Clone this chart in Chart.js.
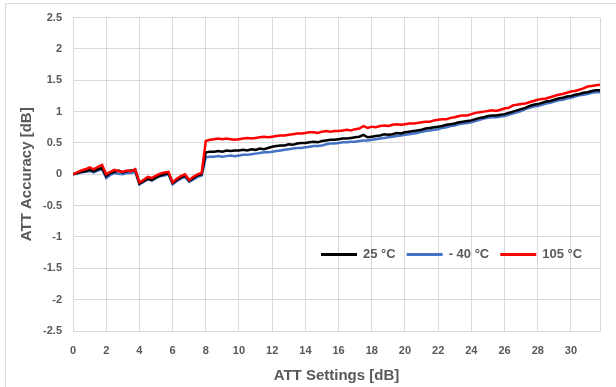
<!DOCTYPE html>
<html>
<head>
<meta charset="utf-8">
<script src="https://cdn.jsdelivr.net/npm/chart.js@4.4.1/dist/chart.umd.min.js"></script>
<style>
  html, body { margin: 0; padding: 0; background: #fff; }
  #wrap { position: relative; width: 616px; height: 387px; overflow: hidden; }
  #frame { position: absolute; left: 5px; top: 3px; width: 660px; height: 440px; border: 1px solid #d9d9d9; pointer-events: none; }
</style>
</head>
<body>
<div id="wrap">
  <canvas id="chart" width="616" height="387"></canvas>
  <div id="frame"></div>
</div>
<script>
// ATT settings run 0 .. 31.75 dB in 0.25 dB steps (128 settings)
const attSettings = [];
for (let i = 0; i < 128; i++) attSettings.push(i * 0.25);

const xTicks = [0, 2, 4, 6, 8, 10, 12, 14, 16, 18, 20, 22, 24, 26, 28, 30];
const yTicks = [-2.5, -2, -1.5, -1, -0.5, 0, 0.5, 1, 1.5, 2, 2.5];

const seriesLabels = ['25 °C', '- 40 °C', '105 °C'];

// accuracy [dB], 8 values per 2 dB
const acc25 = [
  0.00, 0.02, 0.04, 0.05, 0.07, 0.05, 0.08, 0.10,
  -0.03, 0.02, 0.04, 0.06, 0.03, 0.05, 0.06, 0.07,
  -0.15, -0.11, -0.07, -0.09, -0.05, -0.02, 0.00, 0.02,
  -0.14, -0.09, -0.05, -0.02, -0.10, -0.06, -0.02, 0.00,
  0.35, 0.36, 0.36, 0.37, 0.36, 0.38, 0.37, 0.38,
  0.38, 0.39, 0.38, 0.40, 0.39, 0.41, 0.40, 0.42,
  0.44, 0.45, 0.46, 0.46, 0.48, 0.47, 0.49, 0.50,
  0.50, 0.51, 0.52, 0.51, 0.53, 0.54, 0.55, 0.55,
  0.56, 0.57, 0.57, 0.58, 0.59, 0.60, 0.63, 0.59,
  0.60, 0.61, 0.62, 0.64, 0.63, 0.64, 0.66, 0.65,
  0.67, 0.68, 0.69, 0.70, 0.71, 0.73, 0.74, 0.75,
  0.76, 0.77, 0.79, 0.80, 0.81, 0.83, 0.84, 0.85,
  0.86, 0.88, 0.90, 0.91, 0.93, 0.94, 0.94, 0.95,
  0.96, 0.98, 1.00, 1.02, 1.04, 1.06, 1.09, 1.11,
  1.12, 1.14, 1.16, 1.17, 1.19, 1.21, 1.22, 1.24,
  1.25, 1.27, 1.28, 1.30, 1.31, 1.33, 1.34, 1.34
];

const accM40 = [
  0.00, 0.01, 0.03, 0.04, 0.05, 0.03, 0.06, 0.08,
  -0.06, -0.01, 0.02, 0.01, 0.00, 0.02, 0.02, 0.04,
  -0.16, -0.12, -0.08, -0.10, -0.06, -0.03, -0.02, 0.00,
  -0.16, -0.11, -0.07, -0.04, -0.12, -0.08, -0.04, -0.02,
  0.27, 0.28, 0.28, 0.29, 0.28, 0.29, 0.30, 0.29,
  0.30, 0.31, 0.31, 0.32, 0.33, 0.34, 0.35, 0.35,
  0.36, 0.37, 0.38, 0.39, 0.40, 0.41, 0.42, 0.42,
  0.43, 0.44, 0.45, 0.45, 0.46, 0.48, 0.49, 0.49,
  0.50, 0.51, 0.51, 0.52, 0.52, 0.53, 0.54, 0.54,
  0.55, 0.56, 0.57, 0.58, 0.59, 0.60, 0.61, 0.62,
  0.63, 0.64, 0.65, 0.66, 0.68, 0.69, 0.70, 0.71,
  0.72, 0.74, 0.75, 0.77, 0.78, 0.80, 0.81, 0.82,
  0.83, 0.85, 0.87, 0.89, 0.90, 0.91, 0.91, 0.92,
  0.93, 0.95, 0.97, 0.99, 1.01, 1.04, 1.06, 1.08,
  1.09, 1.11, 1.13, 1.14, 1.16, 1.18, 1.19, 1.21,
  1.22, 1.24, 1.26, 1.27, 1.28, 1.30, 1.31, 1.31
];

const acc105 = [
  0.00, 0.03, 0.06, 0.08, 0.11, 0.08, 0.12, 0.15,
  0.00, 0.04, 0.07, 0.05, 0.04, 0.06, 0.05, 0.08,
  -0.13, -0.09, -0.04, -0.06, -0.02, 0.01, 0.03, 0.04,
  -0.13, -0.07, -0.03, 0.00, -0.09, -0.04, 0.00, 0.02,
  0.53, 0.55, 0.56, 0.57, 0.56, 0.57, 0.56, 0.55,
  0.56, 0.57, 0.58, 0.57, 0.58, 0.59, 0.60, 0.59,
  0.60, 0.61, 0.62, 0.62, 0.63, 0.64, 0.65, 0.65,
  0.66, 0.67, 0.67, 0.66, 0.68, 0.69, 0.68, 0.69,
  0.69, 0.70, 0.71, 0.70, 0.72, 0.73, 0.77, 0.74,
  0.76, 0.75, 0.77, 0.78, 0.77, 0.79, 0.80, 0.79,
  0.80, 0.81, 0.81, 0.82, 0.83, 0.84, 0.84, 0.86,
  0.87, 0.88, 0.88, 0.90, 0.91, 0.93, 0.94, 0.94,
  0.96, 0.98, 0.99, 1.00, 1.01, 1.02, 1.01, 1.03,
  1.05, 1.06, 1.10, 1.11, 1.12, 1.13, 1.15, 1.17,
  1.19, 1.20, 1.21, 1.23, 1.25, 1.27, 1.28, 1.30,
  1.32, 1.33, 1.35, 1.37, 1.40, 1.41, 1.42, 1.43
];

const FONT = "'Liberation Sans', Arial, sans-serif";
const GREY = '#595959';
const GRID = '#d9d9d9';

function toPoints(values) {
  return values.map((v, i) => ({ x: attSettings[i], y: v }));
}

// legend sits inside the plot, drawn from the datasets
const insideLegend = {
  id: 'insideLegend',
  afterDraw(chart) {
    const ctx = chart.ctx;
    const y = chart.scales.y.getPixelForValue(-1.28);
    let x = chart.chartArea.left + 248;
    ctx.save();
    ctx.font = 'bold 13px ' + FONT;
    ctx.textBaseline = 'middle';
    chart.data.datasets.forEach(ds => {
      ctx.strokeStyle = ds.borderColor;
      ctx.lineWidth = 3;
      ctx.beginPath();
      ctx.moveTo(x, y);
      ctx.lineTo(x + 36, y);
      ctx.stroke();
      x += 42;
      ctx.fillStyle = GREY;
      ctx.fillText(ds.label, x, y);
      x += ctx.measureText(ds.label).width + 11;
    });
    ctx.restore();
  }
};

new Chart(document.getElementById('chart'), {
  type: 'line',
  data: {
    datasets: [
      { label: seriesLabels[0], data: toPoints(acc25), borderColor: '#000000', order: 1 },
      { label: seriesLabels[1], data: toPoints(accM40), borderColor: '#4472c4', order: 2 },
      { label: seriesLabels[2], data: toPoints(acc105), borderColor: '#ff0000', order: 0 }
    ]
  },
  options: {
    responsive: false,
    animation: false,
    layout: { padding: { left: 14, right: 16, top: 14, bottom: 0 } },
    elements: {
      point: { radius: 0 },
      line: { borderWidth: 2.5, tension: 0 }
    },
    plugins: {
      legend: { display: false },
      tooltip: { enabled: false }
    },
    scales: {
      x: {
        type: 'linear',
        min: 0,
        max: 31.75,
        afterBuildTicks: s => {
          s.ticks = xTicks.map(v => ({ value: v })).concat([{ value: 31.75 }]);
        },
        afterFit: s => { s.height = 56; },
        ticks: {
          color: GREY,
          font: { family: FONT, size: 11, weight: 'bold' },
          padding: 13,
          maxRotation: 0,
          autoSkip: false,
          callback: v => (xTicks.includes(v) ? String(v) : '')
        },
        grid: { color: GRID, drawTicks: false },
        border: { color: GRID },
        title: {
          display: true,
          text: 'ATT Settings [dB]',
          color: GREY,
          font: { family: FONT, size: 15, weight: 'bold' },
          padding: { top: 4, bottom: 2 }
        }
      },
      y: {
        min: -2.5,
        max: 2.5,
        afterBuildTicks: s => { s.ticks = yTicks.map(v => ({ value: v })); },
        afterFit: s => { s.width = 59; },
        ticks: {
          color: GREY,
          font: { family: FONT, size: 11, weight: 'bold' },
          padding: 11,
          callback: v => String(v)
        },
        grid: { color: GRID, drawTicks: false },
        border: { color: GRID },
        title: {
          display: true,
          text: 'ATT Accuracy [dB]',
          color: GREY,
          font: { family: FONT, size: 15, weight: 'bold' },
          padding: { top: 4, bottom: 4 }
        }
      }
    }
  },
  plugins: [insideLegend]
});
</script>
</body>
</html>
